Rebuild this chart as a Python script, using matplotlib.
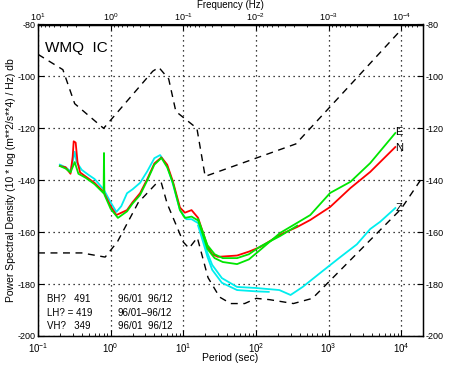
import numpy as np
import matplotlib
matplotlib.use("Agg")
import matplotlib.pyplot as plt
from matplotlib.ticker import LogLocator, FixedLocator, LogFormatterSciNotation

plt.rcParams['font.family'] = ['Liberation Sans', 'DejaVu Sans']
plt.rcParams['mathtext.default'] = 'regular'

# ---------------- data ----------------
nhnm_period = [0.1, 0.22, 0.32, 0.8, 3.8, 4.6, 6.3, 7.9, 15.4, 20.0, 354.8, 10000.0]
nhnm_psd = [-91.5, -97.4, -110.5, -120.0, -98.0, -96.5, -101.0, -113.5, -120.0, -138.5, -126.0, -82.0]

nlnm_period = [0.1, 0.17, 0.4, 0.84, 1.24, 2.4, 4.3, 5.0, 6.0, 10.0, 12.0, 15.6, 21.9, 31.6,
               45.0, 70.0, 101.0, 154.0, 328.0, 600.0, 10000.0, 20000.0]
nlnm_psd = [-168.0, -168.0, -168.0, -169.6, -163.7, -148.6, -141.1, -141.1, -149.0, -163.8,
            -166.2, -162.1, -177.5, -185.0, -187.5, -187.5, -185.5, -186.0, -187.5, -185.5,
            -151.0, -138.5]

# vertical (Z) - cyan
z_period = [0.2, 0.24, 0.28, 0.30, 0.32, 0.34, 0.4, 0.5, 0.6, 0.8, 1.0, 1.2, 1.4, 1.68, 2.0,
            2.54, 3.2, 4.0, 4.8, 6.0, 7.2, 9.0, 11.0, 13.0, 16.0, 18.6, 21.5, 25.0, 34.0, 55.0,
            100.0, 210.0, 300.0, 440.0, 760.0, 1450.0, 2450.0, 3740.0, 5130.0, 8300.0]
z_psd = [-134.0, -135.0, -136.5, -133.0, -129.0, -133.0, -136.0, -138.0, -139.5, -143.5,
         -148.5, -152.2, -150.0, -145.0, -143.5, -141.0, -136.5, -131.5, -130.3, -134.5,
         -141.5, -151.5, -155.0, -155.0, -156.5, -162.0, -168.0, -172.6, -177.7, -181.1,
         -181.5, -182.3, -184.2, -181.1, -175.8, -169.6, -164.7, -158.8, -156.0, -150.7]
z2_period = [16.0, 18.6, 21.5, 25.0, 34.0, 55.0, 100.0, 150.0]
z2_psd = [-157.5, -163.5, -169.5, -174.5, -179.5, -182.3, -182.8, -183.0]

# north (N) - red
n_period = [0.2, 0.24, 0.28, 0.30, 0.31, 0.33, 0.35, 0.38, 0.45, 0.6, 0.8, 1.0, 1.2, 1.68,
            2.0, 2.54, 3.2, 4.0, 5.0, 6.0, 7.2, 9.0, 10.5, 13.0, 16.0, 18.6, 21.5, 25.0,
            30.0, 55.0, 80.0, 115.0, 215.0, 370.0, 560.0, 1050.0, 2000.0, 3740.0, 8300.0]
n_psd = [-134.5, -135.0, -137.5, -131.0, -125.0, -125.5, -133.0, -137.0, -138.5, -141.0,
         -144.5, -150.0, -153.4, -151.5, -148.5, -145.0, -139.5, -133.5, -131.2, -134.0,
         -140.5, -150.5, -152.5, -151.5, -154.5, -160.0, -165.5, -168.5, -169.5, -169.0,
         -167.5, -165.7, -161.0, -158.0, -155.3, -150.3, -143.0, -136.8, -127.2]

# east (E) - green
e_period = [0.2, 0.24, 0.28, 0.32, 0.36, 0.45, 0.6, 0.8, 0.81, 0.82, 1.0, 1.26, 1.68, 2.0,
            2.54, 3.2, 4.0, 5.0, 6.0, 7.2, 9.0, 10.5, 13.0, 16.0, 18.6, 21.5, 27.0, 35.0,
            55.0, 80.0, 115.0, 215.0, 370.0, 560.0, 1050.0, 2000.0, 3740.0, 8300.0]
e_psd = [-134.5, -135.5, -137.0, -133.0, -137.5, -139.0, -141.5, -145.0, -129.5, -145.5,
         -151.0, -154.5, -152.0, -149.0, -145.7, -140.0, -134.0, -131.4, -135.0, -141.0,
         -151.5, -154.5, -154.0, -155.5, -161.0, -166.5, -170.0, -171.5, -172.3, -170.5,
         -166.8, -160.3, -156.4, -153.4, -144.9, -140.6, -133.4, -121.8]
e2_period = [16.0, 18.6, 21.5, 27.0, 35.0, 55.0, 80.0, 115.0, 215.0, 370.0]
e2_psd = [-155.0, -160.0, -165.0, -168.5, -170.0, -170.0, -168.5, -165.5, -161.5, -157.5]

y_ticks = [-80, -100, -120, -140, -160, -180, -200]
period_ticks = [0.1, 1, 10, 100, 1000, 10000]
freq_ticks = [10, 1, 0.1, 0.01, 0.001, 0.0001]
table_rows = [("BH?   491", "96/01  96/12"),
              ("LH? = 419", "96/01\u201396/12"),
              ("VH?   349", "96/01  96/12")]

# ---------------- figure ----------------
fig = plt.figure(figsize=(4.52, 3.67), dpi=100)
ax = fig.add_axes([38 / 452, 31 / 367, 385 / 452, 311.5 / 367])

dash = (0, (5, 4))
ax.plot(nhnm_period, nhnm_psd, color='k', lw=1.0, ls=dash)
ax.plot(nlnm_period, nlnm_psd, color='k', lw=1.0, ls=dash)

cy, rd, gr = '#00EEEE', '#FF0000', '#00E600'
ax.plot(z_period, z_psd, color=cy, lw=1.3)
ax.plot(z2_period, z2_psd, color=cy, lw=1.3)
ax.plot(n_period, n_psd, color=rd, lw=1.3)
ax.plot(e_period, e_psd, color=gr, lw=1.3)
ax.plot(e2_period, e2_psd, color=gr, lw=1.3)

ax.set_xscale('log')
ax.set_xlim(0.1, 10 ** 4.3)
ax.set_ylim(-200, -80)
ax.set_yticks(y_ticks)
ax.set_yticklabels([str(v) for v in y_ticks])
ax.xaxis.set_major_locator(FixedLocator(period_ticks))
ax.xaxis.set_major_formatter(LogFormatterSciNotation())
ax.xaxis.set_minor_locator(LogLocator(base=10, subs=np.arange(2, 10), numticks=20))
ax.grid(True, which='major', ls=(0, (1, 3)), color='k', lw=0.9)
ax.tick_params(which='both', direction='in', labelsize=7, top=False)
ax.tick_params(which='major', length=4)
ax.tick_params(which='minor', length=2)
ax.tick_params(axis='y', pad=2, labelsize=6.5)
for s in ax.spines.values():
    s.set_linewidth(1.0)

ax.set_xlabel('Period (sec)', fontsize=7.5)
ax.xaxis.set_label_coords(0.5, -0.055)
ax.set_ylabel('Power Spectral Density (10 * log (m**2/s**4) / Hz) db', fontsize=7.5, labelpad=1)

# right axis
axr = ax.twinx()
axr.set_ylim(-200, -80)
axr.set_yticks(y_ticks)
axr.set_yticklabels([str(v) for v in y_ticks])
axr.tick_params(direction='in', labelsize=6.5, length=4, pad=2)

# top frequency axis
sec = ax.secondary_xaxis('top', functions=(lambda x: 1.0 / x, lambda x: 1.0 / x))
sec.xaxis.set_major_locator(FixedLocator(freq_ticks))
sec.xaxis.set_major_formatter(LogFormatterSciNotation())
sec.xaxis.set_minor_locator(LogLocator(base=10, subs=np.arange(2, 10), numticks=20))
sec.tick_params(which='both', direction='in', labelsize=6.5, pad=1)
sec.tick_params(which='major', length=4)
sec.tick_params(which='minor', length=2)
fig.text(230 / 452, 1 - 5 / 367, 'Frequency (Hz)', fontsize=7, ha='center', va='center')

ax.text(0.018, 0.925, 'WMQ  IC', transform=ax.transAxes, fontsize=11, va='center', ha='left')

row_y = [299, 313, 326]
for (a, b), py in zip(table_rows, row_y):
    yy = (336 - py) / 311.5
    ax.text((47 - 38) / 385, yy, a, transform=ax.transAxes, fontsize=7, va='center', ha='left')
    ax.text((118 - 38) / 385, yy, b, transform=ax.transAxes, fontsize=7, va='center', ha='left')

ax.text(8300, -121.5, 'E', fontsize=8, va='center', ha='left')
ax.text(8300, -127.5, 'N', fontsize=8, va='center', ha='left')
ax.text(8300, -150.5, 'Z', fontsize=8, va='center', ha='left')

fig.savefig('out.png', dpi=100)
